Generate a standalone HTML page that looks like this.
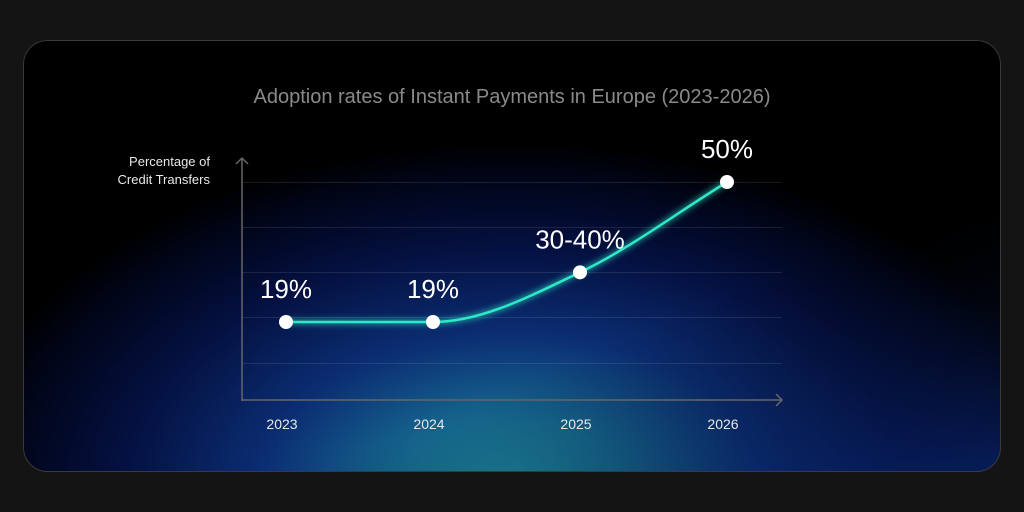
<!DOCTYPE html>
<html><head><meta charset="utf-8"><style>
html,body{margin:0;padding:0;background:#141414;width:1024px;height:512px;overflow:hidden}
svg{display:block;font-family:"Liberation Sans",sans-serif}
</style></head><body>
<svg id="chart" width="1024" height="512" viewBox="0 0 1024 512">
<defs>
<radialGradient id="glow" cx="512" cy="490" r="560" gradientUnits="userSpaceOnUse" gradientTransform="translate(512 490) scale(1 0.62) translate(-512 -490)">
<stop offset="0" stop-color="#1f8a9c"/>
<stop offset="0.2" stop-color="#166a90"/>
<stop offset="0.45" stop-color="#0b2d72"/>
<stop offset="0.7" stop-color="#041040"/>
<stop offset="0.9" stop-color="#010518"/>
<stop offset="1" stop-color="#000000"/>
</radialGradient>
<linearGradient id="side" x1="0" y1="0" x2="1" y2="1">
<stop offset="0.65" stop-color="#000" stop-opacity="0"/>
<stop offset="1" stop-color="#0a2a80" stop-opacity="0.6"/>
</linearGradient>
<filter id="blur"><feGaussianBlur stdDeviation="3"/></filter>
<clipPath id="cardclip"><rect x="23" y="40" width="978" height="432" rx="24"/></clipPath>
</defs>
<g clip-path="url(#cardclip)">
<rect x="23" y="40" width="978" height="432" fill="url(#glow)"/>
<rect x="23" y="40" width="978" height="432" fill="url(#side)"/>
</g>
<rect x="23.5" y="40.5" width="977" height="431" rx="24" fill="none" stroke="#3a3a3a" stroke-width="1"/>
<text x="512" y="103" text-anchor="middle" font-size="20" fill="#8a8a8a">Adoption rates of Instant Payments in Europe (2023-2026)</text>
<text x="210" y="166" text-anchor="end" font-size="13" fill="#e8e8e8">Percentage of</text>
<text x="210" y="184" text-anchor="end" font-size="13" fill="#e8e8e8">Credit Transfers</text>
<g id="grid"></g>
<line x1="242" y1="158" x2="242" y2="401" stroke="#666" stroke-width="1.5"/>
<path d="M236 164 L242 158 L248 164" fill="none" stroke="#666" stroke-width="1.5"/>
<line x1="242" y1="400" x2="782" y2="400" stroke="#666" stroke-width="1.5"/>
<path d="M776 394 L782 400 L776 406" fill="none" stroke="#666" stroke-width="1.5"/>
<g id="marks"></g>
</svg>
<script>
const categories = ["2023","2024","2025","2026"];
const values = [19, 19, 30, 50];
const valueLabels = ["19%","19%","30-40%","50%"];
const gridValues = [10, 20, 30, 40, 50];
const NS = "http://www.w3.org/2000/svg";
function xScale(i){ return 286 + i * 147; }
function yScale(v){ return 407.8 - v * 4.516; }
const grid = document.getElementById('grid');
gridValues.forEach(v=>{
  const l=document.createElementNS(NS,'line');
  
  
  const y=Math.round(yScale(v))+0.5;
  l.setAttribute('x1',242);l.setAttribute('x2',782);l.setAttribute('y1',y);l.setAttribute('y2',y);
  l.setAttribute('stroke','#ffffff');l.setAttribute('stroke-opacity','0.1');
  grid.appendChild(l);
});
const marks=document.getElementById('marks');
const pts=values.map((v,i)=>[xScale(i),yScale(v)]);
let d=`M${pts[0][0]},${pts[0][1]}`;
const tan=pts.map((p,i)=>{
  if(i===0||i===pts.length-1){const q=pts[i===0?1:i-1];return i===0?0:(p[1]-q[1])/(p[0]-q[0]);}
  const s1=(p[1]-pts[i-1][1])/(p[0]-pts[i-1][0]), s2=(pts[i+1][1]-p[1])/(pts[i+1][0]-p[0]);
  return s1*s2<=0?0:(s1+s2)/2;
});
for(let i=0;i<pts.length-1;i++){
  const a=pts[i],b=pts[i+1],h=(b[0]-a[0])/3;
  d+=` C${a[0]+h},${a[1]+tan[i]*h} ${b[0]-h},${b[1]-tan[i+1]*h} ${b[0]},${b[1]}`;
}
const glow=document.createElementNS(NS,'path');


glow.setAttribute('d',d);glow.setAttribute('fill','none');glow.setAttribute('stroke','#2ef0d0');glow.setAttribute('stroke-width','6');glow.setAttribute('stroke-opacity','0.5');glow.setAttribute('filter','url(#blur)');
marks.appendChild(glow);
const line=document.createElementNS(NS,'path');


line.setAttribute('d',d);line.setAttribute('fill','none');line.setAttribute('stroke','#2ee8c8');line.setAttribute('stroke-width','2.5');
marks.appendChild(line);
pts.forEach((p,i)=>{
  const c=document.createElementNS(NS,'circle');
  
  
  c.setAttribute('cx',p[0]);c.setAttribute('cy',p[1]);c.setAttribute('r',7);c.setAttribute('fill','#fff');
  marks.appendChild(c);
  const t=document.createElementNS(NS,'text');
  
  
  t.setAttribute('x',p[0]);t.setAttribute('y',p[1]-24);t.setAttribute('text-anchor','middle');
  t.setAttribute('font-size','26');t.setAttribute('fill','#fff');
  t.textContent=valueLabels[i];
  marks.appendChild(t);
  const x=document.createElementNS(NS,'text');
  
  
  x.setAttribute('x',p[0]-4);x.setAttribute('y',429);x.setAttribute('text-anchor','middle');
  x.setAttribute('font-size','14');x.setAttribute('fill','#e8e8e8');
  x.textContent=categories[i];
  marks.appendChild(x);
});
</script>
</body></html>
